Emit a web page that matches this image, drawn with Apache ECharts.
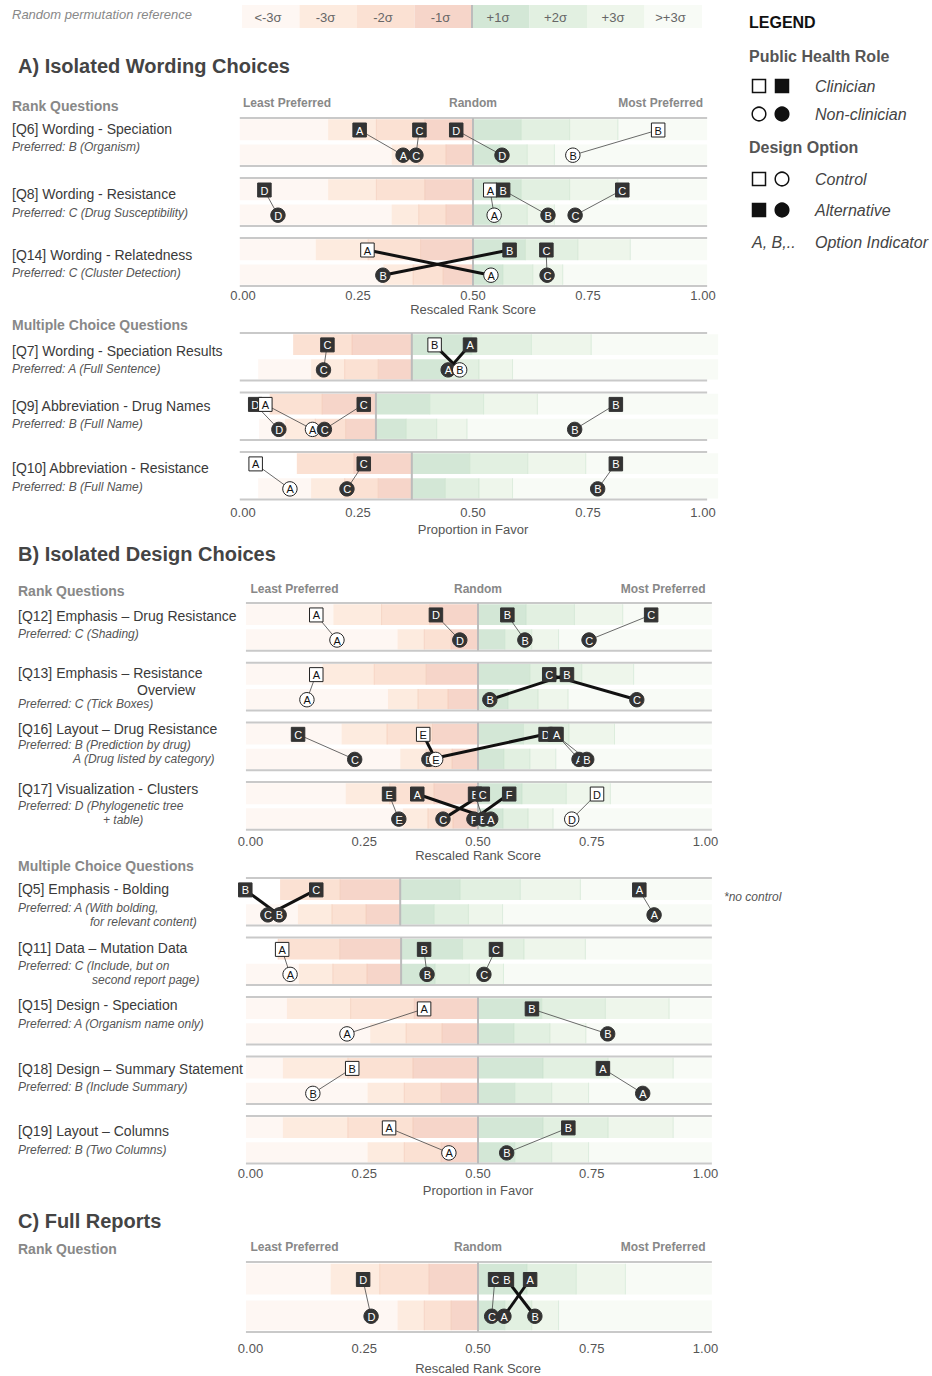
<!DOCTYPE html>
<html>
<head>
<meta charset="utf-8">
<title>Report design preferences</title>
<script src="https://cdn.jsdelivr.net/npm/echarts@6/dist/echarts.min.js"></script>
<style>
  html, body { margin: 0; padding: 0; background: #fff; }
  #main { width: 932px; height: 1376px; }
</style>
</head>
<body>
<div id="main"></div>
<script>
var sigmaLabels = ['<-3σ', '-3σ', '-2σ', '-1σ', '+1σ', '+2σ', '+3σ', '>+3σ'];
var sigmaColors = ['#fef7f3', '#fdebdf', '#fbe1d3', '#f6d5c9', '#d3e7d6', '#e2f0e1', '#eef6eb', '#f8fbf6'];
var tickLabels = ['0.00', '0.25', '0.50', '0.75', '1.00'];
var headerLabels = ['Least Preferred', 'Random', 'Most Preferred'];
var sectionTitles = ['A) Isolated Wording Choices', 'B) Isolated Design Choices', 'C) Full Reports'];

// A) wording - rank questions
var wordRankQuestions = [['[Q6] Wording - Speciation'], ['[Q8] Wording - Resistance'], ['[Q14] Wording - Relatedness']];
var wordRankPreferred = [['Preferred: B (Organism)'], ['Preferred: C (Drug Susceptibility)'], ['Preferred: C (Cluster Detection)']];
// question, option, clinician, non-clinician, control (1), order flips between roles (1)
var wordRankOptions = [
  [0, 'A', 0.253, 0.348, 0, 0],
  [0, 'B', 0.902, 0.717, 1, 0],
  [0, 'C', 0.383, 0.376, 0, 0],
  [0, 'D', 0.463, 0.563, 0, 0],
  [1, 'A', 0.537, 0.546, 1, 0],
  [1, 'B', 0.565, 0.663, 0, 0],
  [1, 'C', 0.824, 0.722, 0, 0],
  [1, 'D', 0.046, 0.076, 0, 0],
  [2, 'A', 0.270, 0.539, 1, 1],
  [2, 'B', 0.579, 0.304, 0, 1],
  [2, 'C', 0.659, 0.661, 0, 0]
];
// question, random centre, sd clinician, sd non-clinician, lowest clinician, lowest non-clinician
var wordRankRef = [
  [0, 0.5, 0.105, 0.059, null, null],
  [1, 0.5, 0.105, 0.059, null, null],
  [2, 0.5, 0.114, 0.065, null, null]
];

// A) wording - multiple choice
var wordMcQuestions = [['[Q7] Wording - Speciation Results'], ['[Q9] Abbreviation - Drug Names'], ['[Q10] Abbreviation - Resistance']];
var wordMcPreferred = [['Preferred: A (Full Sentence)'], ['Preferred: B (Full Name)'], ['Preferred: B (Full Name)']];
var wordMcOptions = [
  [0, 'A', 0.493, 0.446, 0, 1],
  [0, 'B', 0.416, 0.471, 1, 1],
  [0, 'C', 0.183, 0.175, 0, 0],
  [1, 'A', 0.048, 0.151, 1, 0],
  [1, 'B', 0.810, 0.721, 0, 0],
  [1, 'C', 0.262, 0.177, 0, 0],
  [1, 'D', 0.026, 0.078, 0, 0],
  [2, 'A', 0.027, 0.102, 1, 0],
  [2, 'B', 0.810, 0.771, 0, 0],
  [2, 'C', 0.262, 0.226, 0, 0]
];
var wordMcRef = [
  [0, 0.367, 0.130, 0.073, 0.109, 0.033],
  [1, 0.289, 0.117, 0.066, 0.058, 0.035],
  [2, 0.367, 0.126, 0.073, 0.117, 0.033]
];

// B) design - rank questions
var designRankQuestions = [['[Q12] Emphasis – Drug Resistance'], ['[Q13] Emphasis – Resistance', 'Overview'], ['[Q16] Layout – Drug Resistance'], ['[Q17] Visualization - Clusters']];
var designRankPreferred = [['Preferred: C (Shading)'], ['Preferred: C (Tick Boxes)'], ['Preferred: B (Prediction by drug)', 'A (Drug listed by category)'], ['Preferred: D (Phylogenetic tree', '+ table)']];
var designRankOptions = [
  [0, 'A', 0.144, 0.190, 1, 0],
  [0, 'B', 0.564, 0.603, 0, 0],
  [0, 'C', 0.880, 0.744, 0, 0],
  [0, 'D', 0.407, 0.460, 0, 0],
  [1, 'A', 0.144, 0.124, 1, 0],
  [1, 'B', 0.695, 0.526, 0, 1],
  [1, 'C', 0.656, 0.849, 0, 1],
  [2, 'A', 0.672, 0.722, 0, 0],
  [2, 'B', 0.669, 0.739, 0, 0],
  [2, 'C', 0.104, 0.229, 0, 0],
  [2, 'D', 0.648, 0.392, 0, 1],
  [2, 'E', 0.379, 0.407, 1, 1],
  [3, 'A', 0.366, 0.528, 0, 1],
  [3, 'B', 0.493, 0.511, 0, 0],
  [3, 'C', 0.510, 0.423, 0, 1],
  [3, 'D', 0.761, 0.706, 1, 0],
  [3, 'E', 0.304, 0.326, 0, 0],
  [3, 'F', 0.568, 0.491, 0, 1]
];
var designRankRef = [
  [0, 0.5, 0.106, 0.059, null, null],
  [1, 0.5, 0.114, 0.066, null, null],
  [2, 0.5, 0.100, 0.057, null, null],
  [3, 0.5, 0.097, 0.055, null, null]
];

// B) design - multiple choice
var designMcQuestions = [['[Q5] Emphasis - Bolding'], ['[Q11] Data – Mutation Data'], ['[Q15] Design - Speciation'], ['[Q18] Design – Summary Statement'], ['[Q19] Layout – Columns']];
var designMcPreferred = [['Preferred: A (With bolding,', 'for relevant content)'], ['Preferred: C (Include, but on', 'second report page)'], ['Preferred: A (Organism name only)'], ['Preferred: B (Include Summary)'], ['Preferred: B (Two Columns)']];
var designMcOptions = [
  [0, 'A', 0.854, 0.887, 0, 0],
  [0, 'B', -0.012, 0.063, 0, 1],
  [0, 'C', 0.144, 0.038, 0, 1],
  [1, 'A', 0.069, 0.087, 1, 0],
  [1, 'B', 0.381, 0.388, 0, 0],
  [1, 'C', 0.539, 0.513, 0, 0],
  [2, 'A', 0.381, 0.212, 1, 0],
  [2, 'B', 0.618, 0.785, 0, 0],
  [3, 'A', 0.774, 0.862, 0, 0],
  [3, 'B', 0.223, 0.137, 1, 0],
  [4, 'A', 0.304, 0.436, 1, 0],
  [4, 'B', 0.698, 0.563, 0, 0]
];
var designMcRef = [
  [0, 0.329, 0.132, 0.075, 0.065, null],
  [1, 0.331, 0.135, 0.075, 0.060, null],
  [2, 0.5, 0.140, 0.079, null, null],
  [3, 0.5, 0.143, 0.081, null, null],
  [4, 0.5, 0.143, 0.081, null, null]
];

// C) full reports
var fullQuestions = [[]];
var fullPreferred = [[]];
var fullOptions = [
  [0, 'A', 0.614, 0.557, 0, 1],
  [0, 'B', 0.563, 0.625, 0, 1],
  [0, 'C', 0.537, 0.530, 0, 0],
  [0, 'D', 0.247, 0.265, 0, 0]
];
var fullRef = [[0, 0.5, 0.108, 0.059, null, null]];

var FONT = "'Liberation Sans', Arial, Helvetica, sans-serif";

var panels = [
  { questions: wordRankQuestions, preferred: wordRankPreferred, options: wordRankOptions, ref: wordRankRef, axisName: 'Rescaled Rank Score', header: true, heading: 'Rank Questions' },
  { questions: wordMcQuestions, preferred: wordMcPreferred, options: wordMcOptions, ref: wordMcRef, axisName: 'Proportion in Favor', header: false, heading: 'Multiple Choice Questions' },
  { questions: designRankQuestions, preferred: designRankPreferred, options: designRankOptions, ref: designRankRef, axisName: 'Rescaled Rank Score', header: true, heading: 'Rank Questions' },
  { questions: designMcQuestions, preferred: designMcPreferred, options: designMcOptions, ref: designMcRef, axisName: 'Proportion in Favor', header: false, heading: 'Multiple Choice Questions' },
  { questions: fullQuestions, preferred: fullPreferred, options: fullOptions, ref: fullRef, axisName: 'Rescaled Rank Score', header: true, heading: 'Rank Question' }
];

// pixel layout of each panel; labelY = [title y, preferred y, indent of continued line]
var layout = [
  { left: 243, width: 460, top: 118, pitch: 60, lo: -0.007, hi: 1.009, lineHi: 1.009, labelMargin: 3, nameGap: 17, headerMargin: 9, textX: 12, headingY: 106, labelY: [[129, 147], [194, 213], [255, 273]] },
  { left: 243, width: 460, top: 333, pitch: 59.5, lo: -0.007, hi: 1.033, lineHi: 1.009, labelMargin: 6, nameGap: 23, textX: 12, headingY: 325, labelY: [[351, 369], [406, 424], [468, 487]] },
  { left: 250.5, width: 455, top: 603, pitch: 59.7, lo: -0.01, hi: 1.014, lineHi: 1.014, labelMargin: 5, nameGap: 18, headerMargin: 8, textX: 18, headingY: 591, labelY: [[616, 634], [673, 704, 137], [729, 745, 73], [789, 806, 103]] },
  { left: 250.5, width: 455, top: 878, pitch: 59.5, lo: -0.01, hi: 1.014, lineHi: 1.014, labelMargin: 3, nameGap: 20, textX: 18, headingY: 866, labelY: [[889, 908, 90], [948, 966, 92], [1005, 1024], [1069, 1087], [1131, 1150]] },
  { left: 250.5, width: 455, top: 1262, pitch: 89, lo: -0.01, hi: 1.014, lineHi: 1.014, labelMargin: 10, nameGap: 30, headerMargin: 9, textX: 18, headingY: 1249, labelY: [[0, 0]] }
];

function label(text, x, y, size, o) {
  o = o || {};
  return {
    type: 'text', x: x, y: y, silent: true,
    style: {
      text: text, fill: o.color || '#333', fontSize: size, fontFamily: FONT,
      fontWeight: o.bold ? 'bold' : 'normal', fontStyle: o.italic ? 'italic' : 'normal',
      align: o.align || 'left', textAlign: o.align || 'left',
      verticalAlign: 'middle', textVerticalAlign: 'middle'
    }
  };
}

function seg(a, b, color, w, op) {
  return { type: 'line', shape: { x1: a[0], y1: a[1], x2: b[0], y2: b[1] }, style: { stroke: color, lineWidth: w, opacity: op == null ? 1 : op } };
}

// reference bands + frame lines of each question
function refSeries(p, L, xi, yi) {
  return {
    type: 'custom', xAxisIndex: xi, yAxisIndex: yi, silent: true, z: 1,
    data: p.ref.map(function (r) { return [r[1], r[0]]; }),
    renderItem: function (params, api) {
      var r = p.ref[params.dataIndex];
      var q = r[0], c = r[1];
      var kids = [], edgesOut = [];
      [[r[2], r[4], 0.02, 0.37], [r[3], r[5], 0.44, 0.78]].forEach(function (row) {
        var sd = row[0];
        var start = row[1] == null ? L.lo : row[1];
        var edges = [L.lo, c - 3 * sd, c - 2 * sd, c - sd, c, c + sd, c + 2 * sd, c + 3 * sd, L.hi];
        for (var k = 0; k < 8; k++) {
          var a = Math.max(edges[k], start, L.lo), b = Math.min(edges[k + 1], L.hi);
          if (b <= a) continue;
          var p0 = api.coord([a, q + row[2]]), p1 = api.coord([b, q + row[3]]);
          kids.push({ type: 'rect', shape: { x: p0[0], y: p0[1], width: p1[0] - p0[0], height: p1[1] - p0[1] }, style: { fill: sigmaColors[k] } });
          // faint edge between neighbouring bands
          if (k > 0 && k !== 4 && a > L.lo) {
            var ex = k < 4 ? p1[0] : p0[0];
            if (k < 4 && k < 3) ex = p1[0];
            edgesOut.push(seg([k < 4 ? p1[0] : p0[0], p0[1]], [k < 4 ? p1[0] : p0[0], p1[1]], k < 4 ? '#f0bea6' : '#bcdbc1', 1, 0.45));
          }
        }
      });
      kids = kids.concat(edgesOut);
      kids.push(seg(api.coord([L.lo, q]), api.coord([L.lineHi, q]), '#c9c9c9', 2));
      kids.push(seg(api.coord([L.lo, q + 0.8]), api.coord([L.lineHi, q + 0.8]), '#c9c9c9', 2));
      kids.push(seg(api.coord([c, q]), api.coord([c, q + 0.8]), '#bcbcbc', 2));
      return { type: 'group', children: kids };
    }
  };
}

// clinician -> non-clinician connectors
function linkSeries(p, xi, yi) {
  return {
    type: 'custom', xAxisIndex: xi, yAxisIndex: yi, silent: true, z: 2,
    data: p.options.map(function (o) { return [o[2], o[0], o[3]]; }),
    renderItem: function (params, api) {
      var o = p.options[params.dataIndex];
      var a = api.coord([o[2], o[0] + 0.2]), b = api.coord([o[3], o[0] + 0.62]);
      return o[5] ? seg(a, b, '#111', 3) : seg(a, b, '#444', 0.8);
    }
  };
}

function markerSeries(p, xi, yi, role) {
  var col = role === 'clin' ? 2 : 3;
  var dy = role === 'clin' ? 0.2 : 0.62;
  var list = p.options.slice().sort(function (a, b) { return a[col] - b[col]; });
  return {
    type: 'custom', xAxisIndex: xi, yAxisIndex: yi, silent: true, z: 3,
    data: list.map(function (o) { return [o[col], o[0] + dy]; }),
    renderItem: function (params, api) {
      var o = list[params.dataIndex];
      var pt = api.coord([api.value(0), api.value(1)]);
      var open = o[4] === 1;
      var st = { fill: open ? '#fff' : '#333', stroke: open ? '#222' : '#333', lineWidth: 1 };
      var body = role === 'clin'
        ? { type: 'rect', shape: { x: pt[0] - 6.5, y: pt[1] - 7, width: 13.5, height: 14 }, style: st }
        : { type: 'circle', shape: { cx: pt[0], cy: pt[1], r: 7.2 }, style: st };
      var txt = {
        type: 'text',
        style: {
          text: o[1], x: pt[0] + 0.3, y: pt[1] + 0.5, fill: open ? '#111' : '#fff',
          fontSize: 11, fontFamily: FONT, align: 'center', textAlign: 'center',
          verticalAlign: 'middle', textVerticalAlign: 'middle'
        }
      };
      return { type: 'group', children: [body, txt] };
    }
  };
}

var grids = [], xAxes = [], yAxes = [], series = [], graphics = [];

panels.forEach(function (p, i) {
  var L = layout[i];
  var n = p.ref.length;
  grids.push({ left: L.left, top: L.top, width: L.width, height: (n - 0.2) * L.pitch });
  yAxes.push({ gridIndex: i, type: 'value', min: 0, max: n - 0.2, inverse: true, show: false });
  var xi = xAxes.length;
  xAxes.push({
    gridIndex: i, type: 'value', position: 'bottom', min: 0, max: 1, interval: 0.25,
    axisLine: { show: false }, axisTick: { show: false }, splitLine: { show: false },
    axisLabel: { margin: L.labelMargin, color: '#555', fontSize: 13, fontFamily: FONT,
      formatter: function (v) { return tickLabels[Math.round(v * 4)]; } },
    name: p.axisName, nameLocation: 'middle', nameGap: L.nameGap,
    nameTextStyle: { color: '#555', fontSize: 13, fontFamily: FONT }
  });
  if (p.header) {
    xAxes.push({
      gridIndex: i, type: 'value', position: 'top', min: 0, max: 1, interval: 0.5,
      axisLine: { show: false }, axisTick: { show: false }, splitLine: { show: false },
      axisLabel: { margin: L.headerMargin, color: '#888', fontSize: 12, fontWeight: 'bold', fontFamily: FONT,
        alignMinLabel: 'left', alignMaxLabel: 'right',
        formatter: function (v) { return headerLabels[Math.round(v * 2)]; } }
    });
  }
  series.push(refSeries(p, L, xi, i), linkSeries(p, xi, i), markerSeries(p, xi, i, 'clin'), markerSeries(p, xi, i, 'non'));

  graphics.push(label(p.heading, L.textX, L.headingY, 14, { bold: true, color: '#888' }));
  p.questions.forEach(function (lines, q) {
    var pos = L.labelY[q];
    lines.forEach(function (t, k) {
      graphics.push(label(t, k ? pos[2] : L.textX, pos[0] + k * 17, 14, { color: '#3a3a3a' }));
    });
    p.preferred[q].forEach(function (t, k) {
      graphics.push(label(t, k ? pos[2] : L.textX, pos[1] + k * 14, 12, { italic: true, color: '#555' }));
    });
  });
});

// section titles
[[18, 66], [18, 554], [18, 1221]].forEach(function (pos, i) {
  graphics.push(label(sectionTitles[i], pos[0], pos[1], 20, { bold: true, color: '#444' }));
});
graphics.push(label('*no control', 724, 897, 12, { italic: true, color: '#555' }));

// random permutation reference key
graphics.push(label('Random permutation reference', 12, 14, 13, { italic: true, color: '#888' }));
sigmaLabels.forEach(function (t, k) {
  graphics.push({ type: 'rect', silent: true, shape: { x: 242 + k * 57.5, y: 5, width: 57.5, height: 23 }, style: { fill: sigmaColors[k] } });
  graphics.push(label(t, 242 + k * 57.5 + 26, 17, 13, { align: 'center', color: '#666' }));
});
graphics.push({ type: 'line', silent: true, shape: { x1: 472, y1: 5, x2: 472, y2: 28 }, style: { stroke: '#bcbcbc', lineWidth: 2 } });

// legend
graphics.push(label('LEGEND', 749, 22, 16, { bold: true, color: '#111' }));
graphics.push(label('Public Health Role', 749, 56, 16, { bold: true, color: '#555' }));
graphics.push(label('Design Option', 749, 147, 16, { bold: true, color: '#555' }));
var legendRows = [
  ['Clinician', 86, ['rect', 0], ['rect', 1]],
  ['Non-clinician', 114, ['circle', 0], ['circle', 1]],
  ['Control', 179, ['rect', 0], ['circle', 0]],
  ['Alternative', 210, ['rect', 1], ['circle', 1]]
];
legendRows.forEach(function (r) {
  [r[2], r[3]].forEach(function (m, k) {
    var cx = 759 + k * 23;
    var st = { fill: m[1] ? '#111' : '#fff', stroke: '#111', lineWidth: 1.5 };
    graphics.push(m[0] === 'rect'
      ? { type: 'rect', silent: true, shape: { x: cx - 6.5, y: r[1] - 6.5, width: 13, height: 13 }, style: st }
      : { type: 'circle', silent: true, shape: { cx: cx, cy: r[1], r: 6.8 }, style: st });
  });
  graphics.push(label(r[0], 815, r[1], 16, { italic: true, color: '#444' }));
});
graphics.push(label('A, B,..', 752, 242, 16, { italic: true, color: '#444' }));
graphics.push(label('Option Indicator', 815, 242, 16, { italic: true, color: '#444' }));

var chart = echarts.init(document.getElementById('main'), null, { renderer: 'svg' });
chart.setOption({
  animation: false,
  backgroundColor: '#fff',
  grid: grids,
  xAxis: xAxes,
  yAxis: yAxes,
  series: series,
  graphic: { elements: graphics }
});
</script>
</body>
</html>
